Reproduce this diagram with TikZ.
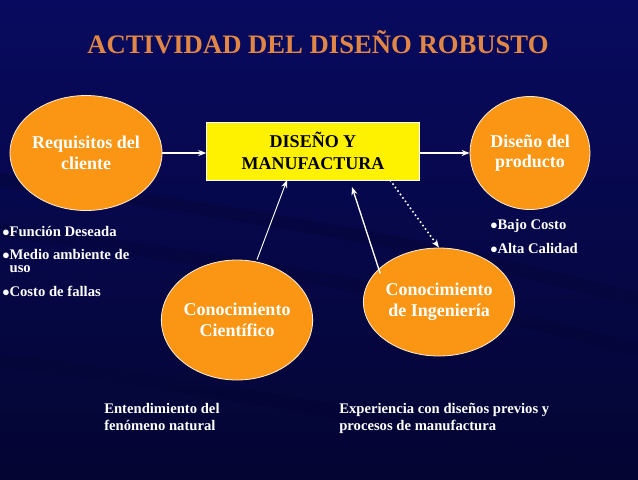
\documentclass[tikz,border=0pt]{standalone}
\usepackage{fontspec}
\setmainfont{Liberation Serif}
\usetikzlibrary{arrows.meta,shapes.geometric}
\definecolor{bg}{RGB}{8,10,95}
\definecolor{bgdark}{RGB}{4,5,50}
\definecolor{orng}{RGB}{250,150,20}
\definecolor{titl}{RGB}{225,135,70}
\tikzset{x=0.75pt,y=-0.75pt,
 circ/.style={ellipse,fill=orng,draw=white!85!orng,line width=0.6pt,inner sep=0pt,minimum width=#1*0.75pt,align=center,text=white,font=\bfseries\fontsize{13.5}{15.5}\selectfont},
 lbl/.style={text=white,font=\bfseries\fontsize{11}{13}\selectfont,align=left,anchor=north west,inner sep=0pt},
 arr/.style={white,line width=1pt,-{Stealth[length=6pt]}}}
\begin{document}
\begin{tikzpicture}
\shade[top color=bg,bottom color=bgdark] (0,0) rectangle (638,479);
\useasboundingbox (0,0) rectangle (638,479);
\foreach \y/\o in {240/0.35,290/0.3,420/0.3}
  \draw[bgdark,line width=10pt,opacity=\o] (0,\y-60) .. controls (300,\y-20) and (450,\y+10) .. (638,\y+60);
\node[text=titl,font=\bfseries\fontsize{20}{22}\selectfont] (t) at (318,42) {ACTIVIDAD DEL DISEÑO ROBUSTO};
\node[circ=137,minimum height=115*0.75pt] (a) at (86,153) {Requisitos del\\cliente};
\node[fill=yellow,draw=white,minimum width=213*0.75pt,minimum height=58*0.75pt,align=center,font=\bfseries\fontsize{13.5}{16}\selectfont] (b) at (313,151) {DISEÑO Y\\MANUFACTURA};
\node[circ=120,minimum height=113*0.75pt] (c) at (530,153) {Diseño del\\producto};
\node[circ=136,minimum height=120*0.75pt] (d) at (237,320) {Conocimiento\\Científico};
\node[circ=138,minimum height=108*0.75pt] (e) at (439,302) {Conocimiento\\de Ingeniería};
\draw[arr] (a.east) -- (b.west|-a.east);
\draw[arr] (b.east|-c.west) -- (c.west);
\draw[arr,line width=0.7pt] (d.north) ++(20,0) coordinate(d1) -- (287,180);
\draw[arr] (e.north west) ++(-5,10) coordinate(e1) -- (352,187);
\draw[white,line width=1.2pt,dotted,-{Stealth[length=6pt]}] (390,180) -- (e.north);
\node[lbl] (l1) at (2,226) {$\bullet$Función Deseada};
\node[lbl] (l2) at (2,249) {$\bullet$Medio ambiente de\\[-3pt]\ \ uso};
\node[lbl] (l3) at (2,286) {$\bullet$Costo de fallas};
\node[lbl] (r1) at (490,219) {$\bullet$Bajo Costo};
\node[lbl] (r2) at (490,243) {$\bullet$Alta Calidad};
\node[lbl] (b1) at (104,403) {Entendimiento del\\fenómeno natural};
\node[lbl] (b2) at (339,403) {Experiencia con diseños previos y\\procesos de manufactura};
\end{tikzpicture}
\end{document}
